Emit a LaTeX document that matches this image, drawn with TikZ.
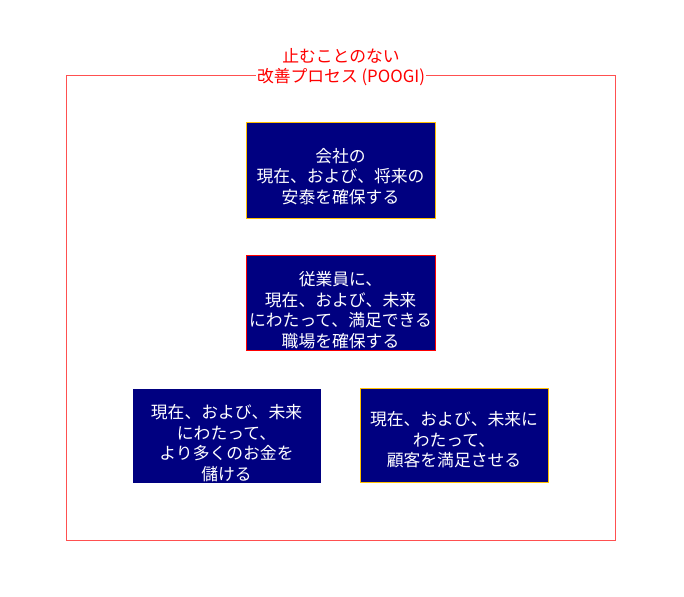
\documentclass[tikz,border=0pt]{standalone}
\usepackage{fontspec}
\setmainfont{Noto Sans CJK JP}
\usepackage{xcolor}
\usetikzlibrary{calc}
\definecolor{navybox}{HTML}{000080}
\definecolor{goalyellow}{HTML}{FFC000}
\definecolor{framered}{HTML}{FF5050}
\tikzstyle{goalbox} = [rectangle, fill=navybox, line width=1pt, minimum width=189pt, minimum height=95pt, inner sep=0pt]
\tikzstyle{goaltext} = [text=white, align=center, font=\fontsize{16.8}{20.5}\selectfont, inner sep=0pt]

\begin{document}
\begin{tikzpicture}[x=1pt, y=-1pt]
  \useasboundingbox (0,0) rectangle (684,596);

  % outline
  \draw[framered, line width=1pt] (66,76) rectangle (615,540);
  \node[fill=white, text=red, align=center, inner sep=1pt,
        font=\fontsize{16.8}{20}\selectfont] (title) at (341,67)
        {止むことのない\\改善プロセス (POOGI)};

  % goals
  \node[goalbox, draw=goalyellow] (company) at (340.5,170.5) {};
  \node[goaltext] (companytext) at ([yshift=-6]company.center)
        {会社の\\現在、および、将来の\\安泰を確保する};

  \node[goalbox, draw=red] (staff) at (340.5,302.5) {};
  \node[goaltext] (stafftext) at ([yshift=-7.5]staff.center)
        {従業員に、\\現在、および、未来\\にわたって、満足できる\\職場を確保する};

  \node[goalbox, draw=navybox, minimum width=187pt, minimum height=93pt] (money) at (226.5,435.5) {};
  \node[goaltext] (moneytext) at ([yshift=-7.5]money.center)
        {現在、および、未来\\にわたって、\\より多くのお金を\\儲ける};

  \node[goalbox, draw=goalyellow, minimum width=188pt, minimum height=94pt] (customer) at (454,435) {};
  \node[goaltext] (customertext) at ([yshift=-5]customer.center)
        {現在、および、未来に\\わたって、\\顧客を満足させる};
\end{tikzpicture}
\end{document}
